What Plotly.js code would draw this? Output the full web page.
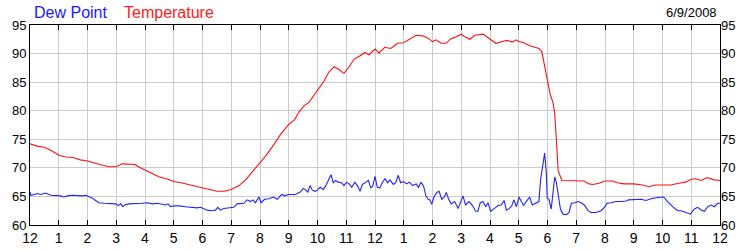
<!DOCTYPE html>
<html>
<head>
<meta charset="utf-8">
<script src="https://cdn.plot.ly/plotly-3.0.1.min.js"></script>
<style>html,body{margin:0;padding:0;background:#fff;}#chart{width:750px;height:250px;}</style>
</head>
<body>
<div id="chart"></div>
<script>
const tempHours = [0,0.25,0.5,0.75,1.0,1.25,1.5,1.75,2.0,2.25,2.5,2.75,3.0,3.2,3.5,3.65,3.8,4.0,4.25,4.5,4.75,5.0,5.25,5.5,5.75,6.0,6.25,6.5,6.75,7.0,7.27,7.5,7.68,8.0,8.2,8.5,8.72,9.0,9.2,9.37,9.54,9.71,10.0,10.23,10.4,10.58,10.75,10.92,11.1,11.27,11.44,11.65,11.79,12.0,12.14,12.34,12.55,12.78,13.0,13.2,13.43,13.66,13.84,14.0,14.12,14.3,14.47,14.64,14.81,15.0,15.1,15.3,15.47,15.76,16.0,16.2,16.43,16.6,16.78,16.9,17.0,17.18,17.36,17.53,17.7,17.8,17.9,18.03,18.1,18.19,18.25,18.31,18.37,18.5,18.75,19.0,19.27,19.44,19.58,19.79,20.0,20.26,20.43,20.66,21.0,21.3,21.53,21.76,22.0,22.28,22.57,22.8,23.0,23.15,23.33,23.56,23.79,24.0];
const tempValues = [74.2,73.8,73.6,73.0,72.2,71.9,71.8,71.4,71.2,70.8,70.5,70.2,70.2,70.7,70.7,70.6,70.1,69.6,69.0,68.4,68.1,67.6,67.4,67.1,66.8,66.5,66.2,65.9,65.9,66.2,66.9,67.9,69.0,70.9,72.1,74.2,75.9,77.6,78.4,79.9,80.9,81.5,83.6,85.2,86.8,87.7,87.2,86.5,87.7,89.0,89.5,90.2,89.8,90.8,90.1,91.1,90.9,91.8,91.9,92.5,93.2,93.1,92.7,92.1,92.4,91.8,91.8,92.6,92.9,93.4,93.0,92.5,93.2,93.4,92.6,91.8,92.1,92.3,92.0,92.4,92.1,91.9,91.4,91.1,90.9,90.4,87.7,84.2,82.7,81.5,79.5,74.8,69.5,67.8,67.8,67.8,67.7,67.2,67.1,67.3,67.7,67.7,67.4,67.2,67.2,67.0,66.7,67.0,67.0,67.0,67.3,67.5,68.0,68.1,67.8,68.3,67.9,67.8];

const dewHours = [0,0.03,0.14,0.26,0.37,0.54,0.72,0.89,1.07,1.18,1.3,1.47,1.65,1.82,1.94,2.05,2.17,2.28,2.4,2.57,2.8,2.98,3.07,3.15,3.23,3.33,3.44,3.68,3.9,4.08,4.26,4.43,4.6,4.72,4.8,4.89,5.0,5.18,5.41,5.64,5.81,5.93,6.05,6.16,6.34,6.45,6.53,6.62,6.74,6.91,7.09,7.2,7.32,7.44,7.55,7.67,7.76,7.84,7.96,8.04,8.16,8.31,8.46,8.6,8.75,8.85,9.0,9.23,9.41,9.5,9.6,9.66,9.74,9.82,9.91,10.0,10.09,10.2,10.28,10.38,10.47,10.55,10.63,10.72,10.84,10.92,11.01,11.1,11.19,11.3,11.4,11.48,11.56,11.68,11.77,11.85,11.92,12.0,12.08,12.17,12.25,12.35,12.44,12.52,12.64,12.72,12.81,12.89,12.99,13.1,13.2,13.31,13.43,13.51,13.6,13.69,13.77,13.85,13.91,13.97,14.05,14.15,14.23,14.32,14.41,14.48,14.57,14.65,14.77,14.89,14.97,15.06,15.15,15.27,15.39,15.5,15.58,15.66,15.76,15.85,15.93,16.02,16.16,16.28,16.39,16.49,16.57,16.68,16.76,16.83,16.92,17.01,17.09,17.17,17.26,17.38,17.47,17.59,17.7,17.76,17.84,17.9,17.96,17.99,18.05,18.13,18.19,18.25,18.31,18.37,18.45,18.54,18.66,18.75,18.83,18.95,19.06,19.17,19.28,19.4,19.5,19.69,19.86,19.98,20.07,20.21,20.38,20.56,20.73,20.82,21.02,21.25,21.43,21.6,21.83,22.04,22.18,22.35,22.53,22.64,22.82,22.97,23.11,23.22,23.36,23.46,23.57,23.69,23.8,23.92,24.0];
const dewValues = [65.8,65.2,65.35,65.5,65.35,65.6,65.2,65.2,65.1,64.9,65.1,65.2,65.1,65.1,65.2,65.0,64.7,64.3,63.9,63.8,63.8,63.7,63.4,63.7,63.2,63.6,63.7,63.7,63.8,63.9,63.7,63.8,63.6,63.5,63.7,63.2,63.35,63.35,63.2,63.1,63.0,63.1,62.9,62.6,62.5,62.6,63.1,62.6,62.9,63.0,63.1,63.7,63.8,63.8,64.4,64.1,64.4,63.9,64.9,63.9,64.5,64.6,64.9,64.5,65.35,65.1,65.35,65.35,65.8,66.4,66.1,65.7,66.9,66.1,65.9,66.1,66.6,66.2,66.8,67.9,68.8,67.4,67.8,67.5,67.4,66.9,67.5,67.2,66.6,67.5,66.8,65.9,67.1,67.5,67.8,66.5,66.8,68.5,66.6,66.5,67.4,68.1,67.4,67.9,67.1,67.4,68.7,67.4,67.6,67.2,67.5,66.9,67.2,66.6,67.5,66.8,65.1,64.5,64.4,63.6,64.9,65.7,65.9,64.5,64.9,65.7,64.4,63.7,64.1,62.9,63.9,65.1,63.5,64.1,63.4,62.4,62.4,63.9,64.1,63.2,63.9,62.4,62.9,63.4,63.5,64.3,62.6,62.9,63.4,64.4,63.2,64.9,64.1,63.4,64.1,64.9,63.5,63.8,64.1,67.9,71.2,72.6,69.1,64.7,64.5,62.8,65.6,68.4,67.4,65.0,62.8,61.9,61.8,62.2,63.8,63.9,64.1,63.9,63.5,62.6,62.2,62.2,62.5,63.1,63.8,63.9,64.1,64.1,64.2,64.4,64.4,64.5,64.3,64.6,64.8,64.9,64.1,63.2,62.5,62.5,62.2,61.9,62.8,63.1,62.6,62.4,63.2,63.5,63.2,63.8,63.8];

const hourTicks = [0,1,2,3,4,5,6,7,8,9,10,11,12,13,14,15,16,17,18,19,20,21,22,23,24];
const hourLabels = ["12","1","2","3","4","5","6","7","8","9","10","11","12","1","2","3","4","5","6","7","8","9","10","11","12"];
const yTicks = [60,65,70,75,80,85,90,95];
const titleDew = "Dew Point";
const titleTemp = "Temperature";
const dateLabel = "6/9/2008";

const font = "Arial, 'Liberation Sans', sans-serif";

const traces = [
  {x: dewHours, y: dewValues, type: 'scatter', mode: 'lines', line: {color: '#2222ff', width: 1.1}, hoverinfo: 'none'},
  {x: tempHours, y: tempValues, type: 'scatter', mode: 'lines', line: {color: '#ff1010', width: 1.1}, hoverinfo: 'none'},
  {x: [0], y: [60], yaxis: 'y2', type: 'scatter', mode: 'none', showlegend: false, hoverinfo: 'none'}
];

const layout = {
  width: 750, height: 250,
  margin: {l: 30, r: 30, t: 25, b: 25, pad: 0},
  paper_bgcolor: '#ffffff', plot_bgcolor: '#ffffff',
  showlegend: false,
  font: {family: font, color: '#000'},
  xaxis: {
    range: [0, 24], tickvals: hourTicks, ticktext: hourLabels,
    showgrid: true, gridcolor: '#cccccc', gridwidth: 1,
    showline: true, linecolor: '#000', linewidth: 1, mirror: 'ticks',
    ticks: 'inside', ticklen: 5, tickcolor: '#000', tickwidth: 1,
    tickfont: {size: 14, family: font, color: '#000'},
    zeroline: false, fixedrange: true
  },
  yaxis: {
    range: [60, 95], tickvals: yTicks,
    showgrid: true, gridcolor: '#cccccc', gridwidth: 1,
    showline: true, linecolor: '#000', linewidth: 1, mirror: true,
    ticks: '', tickfont: {size: 13, family: font, color: '#000'},
    zeroline: false, fixedrange: true
  },
  yaxis2: {
    range: [60, 95], tickvals: yTicks, overlaying: 'y', side: 'right',
    showgrid: false, showline: false, ticks: '', zeroline: false,
    tickfont: {size: 13, family: font, color: '#000'}, fixedrange: true
  },
  annotations: [
    {text: titleDew, xref: 'paper', yref: 'paper', x: 0.003, y: 1.065, xanchor: 'left', yanchor: 'middle', showarrow: false, font: {size: 16, family: font, color: '#1a1aff'}},
    {text: titleTemp, xref: 'paper', yref: 'paper', x: 0.134, y: 1.065, xanchor: 'left', yanchor: 'middle', showarrow: false, font: {size: 16, family: font, color: '#ff1a1a'}},
    {text: dateLabel, xref: 'paper', yref: 'paper', x: 0.998, y: 1.065, xanchor: 'right', yanchor: 'middle', showarrow: false, font: {size: 13, family: font, color: '#000'}}
  ]
};

Plotly.newPlot('chart', traces, layout, {staticPlot: true, displayModeBar: false});
</script>
</body>
</html>
